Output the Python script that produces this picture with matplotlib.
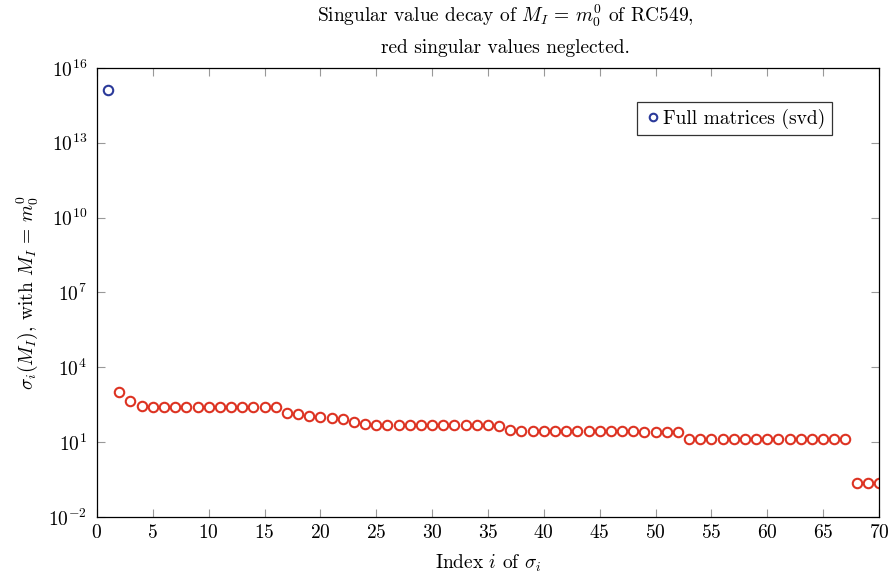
import numpy as np
import matplotlib.pyplot as plt

plt.rcParams['font.family'] = 'serif'
plt.rcParams['font.serif'] = ['cmr10']
plt.rcParams['mathtext.fontset'] = 'cm'
plt.rcParams['axes.unicode_minus'] = False
plt.rcParams['axes.formatter.use_mathtext'] = True

# log10 der Singulärwerte
log_full = [15.12]
log_red = [3.0, 2.65, 2.46, 2.42, 2.4, 2.4, 2.4, 2.4, 2.4, 2.4, 2.4, 2.4, 2.4, 2.4, 2.4,
           2.15, 2.11, 2.05, 2.02, 1.98, 1.91, 1.79, 1.73, 1.7, 1.68, 1.67, 1.67, 1.67,
           1.67, 1.67, 1.67, 1.67, 1.67, 1.67, 1.66,
           1.49, 1.46, 1.46, 1.45, 1.45, 1.45, 1.44, 1.44, 1.44, 1.43, 1.43, 1.43, 1.42,
           1.42, 1.42, 1.41,
           1.11, 1.11, 1.11, 1.11, 1.11, 1.11, 1.11, 1.11, 1.11, 1.11, 1.11, 1.11, 1.11,
           1.11, 1.11,
           -0.63, -0.63, -0.63]
idx_full = [1]
idx_red = list(range(2, 2 + len(log_red)))

fig = plt.figure(figsize=(8.92, 5.83), dpi=100)
ax = fig.add_axes([0.1087, 0.1132, 0.8767, 0.7702])

ax.semilogy(idx_red, 10.0 ** np.array(log_red), 'o', ls='none', ms=6.8, mew=1.5,
            mfc='white', mec='#dd3322')
ax.semilogy(idx_full, 10.0 ** np.array(log_full), 'o', ls='none', ms=6.8, mew=1.5,
            mfc='white', mec='#2b3a9a', label='Full matrices (svd)')

ax.set_xlim(0, 70)
ax.set_ylim(1e-2, 1e16)
ax.set_xticks(np.arange(0, 71, 5))
ax.set_yticks([10.0 ** k for k in range(-2, 17, 3)])
ax.set_yticklabels([r'$10^{%d}$' % k for k in range(-2, 17, 3)])
ax.minorticks_off()
ax.tick_params(direction='in', length=6, color='#999999', labelsize=14)
ax.tick_params(axis='x', pad=5)
ax.tick_params(axis='y', pad=7)
ax.tick_params(axis='both', which='both', top=True, right=True)
for s in ax.spines.values():
    s.set_linewidth(0.9)

ax.set_xlabel(r'Index $i$ of $\sigma_i$', fontsize=14, labelpad=8)
ax.set_ylabel(r'$\sigma_i(M_I)$, with $M_I\,=\,m_0^0$', fontsize=14, labelpad=6)
ax.text(0.522, 1.024, 'Singular value decay of $M_I\\,=\\,m_0^0$ of RC549,\nred singular values neglected.',
        transform=ax.transAxes, ha='center', va='bottom', multialignment='center',
        fontsize=14, linespacing=1.75)

leg = ax.legend(loc='upper right', bbox_to_anchor=(0.94, 0.925), borderaxespad=0,
                fontsize=14, frameon=True, fancybox=False, edgecolor='black',
                handletextpad=0.0, handlelength=1.0, borderpad=0.35, markerscale=0.8)
leg.get_frame().set_linewidth(0.9)

fig.savefig('out.png', dpi=100)
